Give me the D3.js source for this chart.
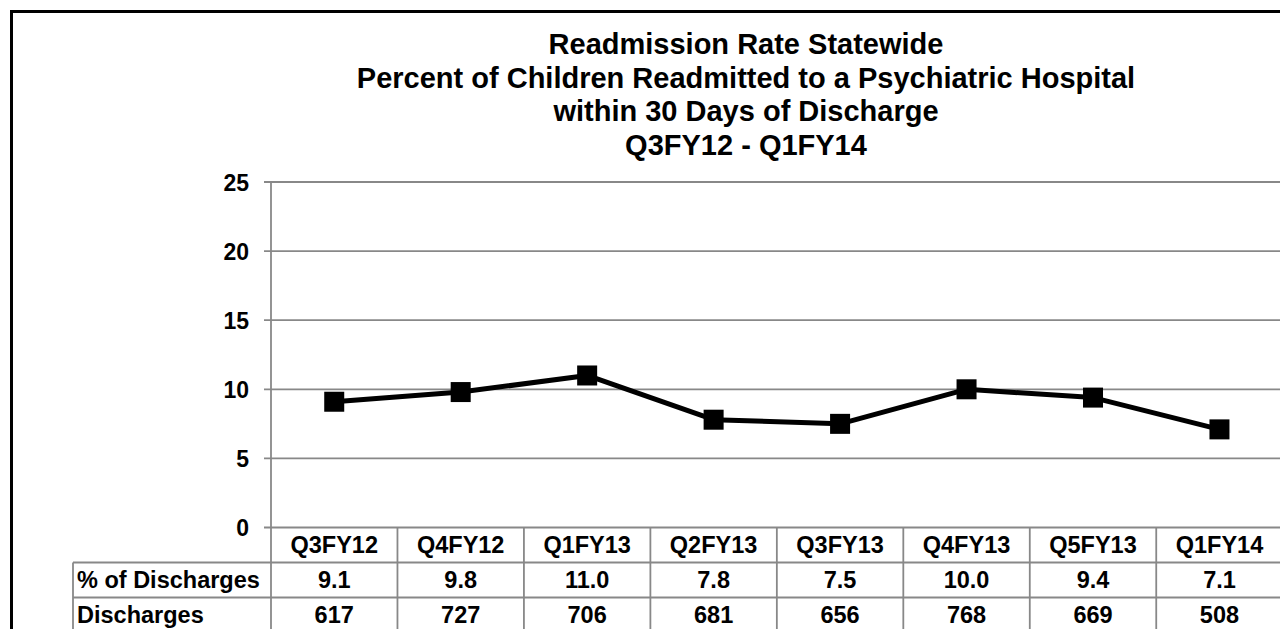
<!DOCTYPE html>
<meta charset="utf-8">
<script src="https://d3js.org/d3.v7.min.js"></script>
<style>
  body { margin: 0; background: #fff; }
  text { font-family: "Liberation Sans", Arial, sans-serif; font-weight: bold; fill: #000; }
</style>
<svg id="chart" width="1280" height="629"></svg>

<script>
    // data
    var quarters = ["Q3FY12", "Q4FY12", "Q1FY13", "Q2FY13", "Q3FY13", "Q4FY13", "Q5FY13", "Q1FY14"];
    var pctDischarges = [9.1, 9.8, 11.0, 7.8, 7.5, 10.0, 9.4, 7.1];
    var discharges = [617, 727, 706, 681, 656, 768, 669, 508];
    var yTicks = [0, 5, 10, 15, 20, 25];
    var rowLabels = ["% of Discharges", "Discharges"];
    var titleLines = ["Readmission Rate Statewide",
                      "Percent of Children Readmitted to a Psychiatric Hospital",
                      "within 30 Days of Discharge",
                      "Q3FY12 - Q1FY14"];

    var svg = d3.select("#chart");

    // plot area (note: "top" is taken by window.top, so use other names)
    var plotL = 271, plotR = 1282.7, plotT = 182, plotB = 527.5;
    var rowH = 35, labelLeft = 73;
    var grey = "#888";

    var x = d3.scaleBand().domain(quarters).range([plotL, plotR]);
    var y = d3.scaleLinear().domain([0, 25]).range([plotB, plotT]);

    // chart border (runs off the right/bottom of the view)
    svg.append("rect")
        .attr("x", 11.5).attr("y", 11.5)
        .attr("width", 1600).attr("height", 800)
        .attr("fill", "none").attr("stroke", "#000").attr("stroke-width", 3);

    // title
    svg.append("g").selectAll("text")
        .data(titleLines)
        .enter().append("text")
          .attr("x", 746)
          .attr("y", function(d, i){ return 54 + i * 33.7 })
          .attr("text-anchor", "middle")
          .style("font-size", "29px")
          .text(function(d){ return d });

    // gridlines + tick marks
    svg.append("g").selectAll("line")
        .data(yTicks)
        .enter().append("line")
          .attr("x1", plotL - 7).attr("x2", 1300)
          .attr("y1", function(d){ return y(d) })
          .attr("y2", function(d){ return y(d) })
          .attr("stroke", grey).attr("stroke-width", 1.8);

    // y tick labels
    svg.append("g").selectAll("text")
        .data(yTicks)
        .enter().append("text")
          .attr("x", 249)
          .attr("y", function(d){ return y(d) + 8.5 })
          .attr("text-anchor", "end")
          .style("font-size", "23px")
          .text(function(d){ return d });

    // y axis line, continues down through the table
    svg.append("line")
        .attr("x1", plotL).attr("x2", plotL)
        .attr("y1", plotT).attr("y2", plotB + 3 * rowH)
        .attr("stroke", grey).attr("stroke-width", 1.8);

    // data table grid
    var grid = svg.append("g").attr("stroke", grey).attr("stroke-width", 1.8);
    // column dividers
    grid.selectAll(".col")
        .data(quarters)
        .enter().append("line")
          .attr("x1", function(d){ return x(d) + x.bandwidth() })
          .attr("x2", function(d){ return x(d) + x.bandwidth() })
          .attr("y1", plotB).attr("y2", plotB + 3 * rowH);
    // row lines
    [1, 2, 3].forEach(function(r){
        grid.append("line")
            .attr("x1", labelLeft).attr("x2", plotR)
            .attr("y1", plotB + r * rowH).attr("y2", plotB + r * rowH);
    });
    grid.append("line")
        .attr("x1", labelLeft).attr("x2", labelLeft)
        .attr("y1", plotB + rowH).attr("y2", plotB + 3 * rowH);

    // header row
    svg.append("g").selectAll("text")
        .data(quarters)
        .enter().append("text")
          .attr("x", function(d){ return x(d) + x.bandwidth() / 2 })
          .attr("y", plotB + rowH / 2 + 8)
          .attr("text-anchor", "middle")
          .style("font-size", "23.5px")
          .text(function(d){ return d });

    // row labels
    svg.append("g").selectAll("text")
        .data(rowLabels)
        .enter().append("text")
          .attr("x", labelLeft + 4)
          .attr("y", function(d, i){ return plotB + (i + 1.5) * rowH + 8 })
          .style("font-size", "23.5px")
          .text(function(d){ return d });

    // row values
    var rows = [pctDischarges.map(function(v){ return v.toFixed(1) }), discharges];
    rows.forEach(function(vals, r){
        svg.append("g").selectAll("text")
            .data(vals)
            .enter().append("text")
              .attr("x", function(d, i){ return x(quarters[i]) + x.bandwidth() / 2 })
              .attr("y", plotB + (r + 1.5) * rowH + 8)
              .attr("text-anchor", "middle")
              .style("font-size", "23.5px")
              .text(function(d){ return d });
    });

    // the line
    var line = d3.line()
        .x(function(d, i){ return x(quarters[i]) + x.bandwidth() / 2 })
        .y(function(d){ return y(d) });

    svg.append("path")
        .datum(pctDischarges)
        .attr("d", line)
        .attr("fill", "none")
        .attr("stroke", "#000")
        .attr("stroke-width", 5)
        .attr("stroke-linejoin", "round");

    // square markers
    svg.append("g").selectAll("rect")
        .data(pctDischarges)
        .enter().append("rect")
          .attr("x", function(d, i){ return x(quarters[i]) + x.bandwidth() / 2 - 10 })
          .attr("y", function(d){ return y(d) - 10 })
          .attr("width", 20).attr("height", 20)
          .attr("fill", "#000");
</script>
